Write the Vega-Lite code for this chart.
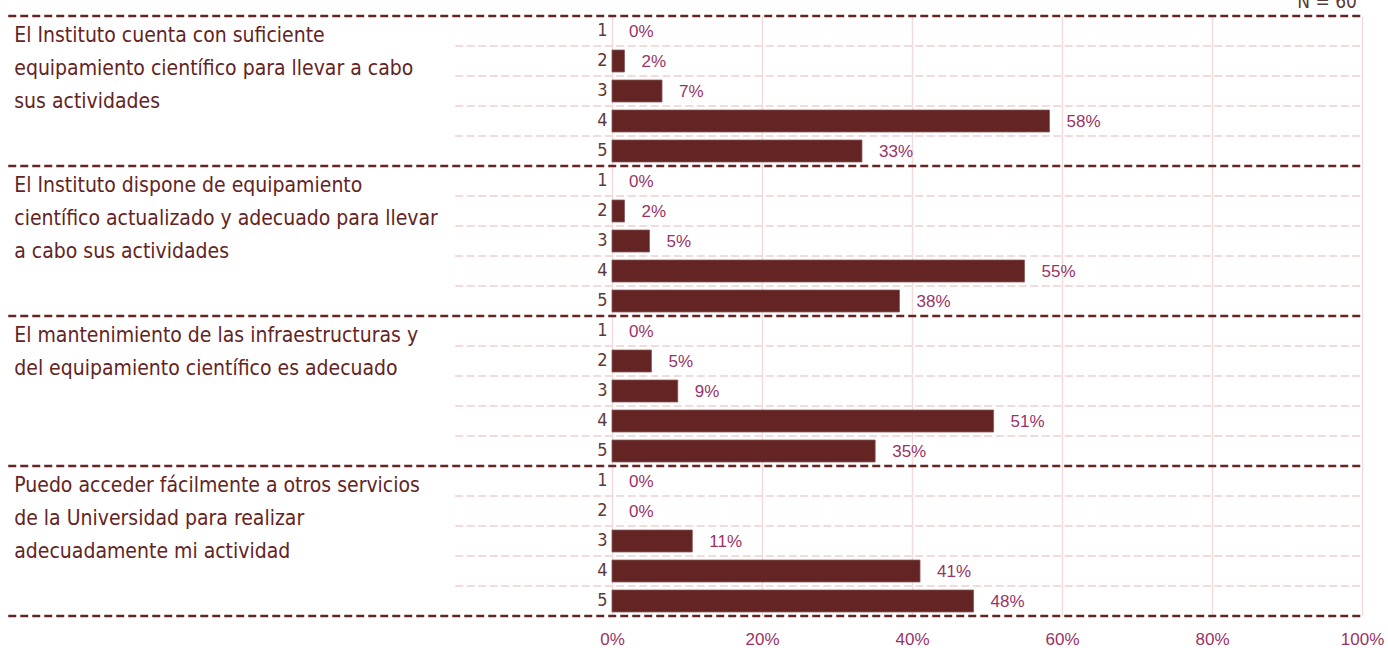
{
  "$schema": "https://vega.github.io/schema/vega-lite/v6.json",
  "autosize": {"type": "none"},
  "width": 750,
  "height": 600,
  "padding": {"left": 612, "top": 16, "right": 26, "bottom": 32},
  "background": "white",
  "datasets": {
    "resp": [
      {"key": "1-1", "group": 1, "resp": 1, "value": 0},
      {"key": "1-2", "group": 1, "resp": 2, "value": 0.0167},
      {"key": "1-3", "group": 1, "resp": 3, "value": 0.0667},
      {"key": "1-4", "group": 1, "resp": 4, "value": 0.5833},
      {"key": "1-5", "group": 1, "resp": 5, "value": 0.3333},
      {"key": "2-1", "group": 2, "resp": 1, "value": 0},
      {"key": "2-2", "group": 2, "resp": 2, "value": 0.0167},
      {"key": "2-3", "group": 2, "resp": 3, "value": 0.05},
      {"key": "2-4", "group": 2, "resp": 4, "value": 0.55},
      {"key": "2-5", "group": 2, "resp": 5, "value": 0.3833},
      {"key": "3-1", "group": 3, "resp": 1, "value": 0},
      {"key": "3-2", "group": 3, "resp": 2, "value": 0.0526},
      {"key": "3-3", "group": 3, "resp": 3, "value": 0.0877},
      {"key": "3-4", "group": 3, "resp": 4, "value": 0.5088},
      {"key": "3-5", "group": 3, "resp": 5, "value": 0.3509},
      {"key": "4-1", "group": 4, "resp": 1, "value": 0},
      {"key": "4-2", "group": 4, "resp": 2, "value": 0},
      {"key": "4-3", "group": 4, "resp": 3, "value": 0.1071},
      {"key": "4-4", "group": 4, "resp": 4, "value": 0.4107},
      {"key": "4-5", "group": 4, "resp": 5, "value": 0.4821}
    ],
    "questions": [
      {"key": "1-1", "text": "El Instituto cuenta con suficiente\nequipamiento científico para llevar a cabo\nsus actividades"},
      {"key": "2-1", "text": "El Instituto dispone de equipamiento\ncientífico actualizado y adecuado para llevar\na cabo sus actividades"},
      {"key": "3-1", "text": "El mantenimiento de las infraestructuras y\ndel equipamiento científico es adecuado"},
      {"key": "4-1", "text": "Puedo acceder fácilmente a otros servicios\nde la Universidad para realizar\nadecuadamente mi actividad"}
    ],
    "note": [{"key": "1-1", "text": "N = 60"}],
    "bottom": [{"key": "4-5"}]
  },
  "data": {"name": "resp"},
  "config": {
    "view": {"stroke": null},
    "axis": {"title": null}
  },
  "encoding": {
    "y": {
      "field": "key",
      "type": "nominal",
      "scale": {"paddingInner": 0, "paddingOuter": 0},
      "axis": {
        "domain": false,
        "ticks": false,
        "grid": false,
        "labelExpr": "substring(datum.value, 2)",
        "labelFont": "DejaVu Sans Condensed, Liberation Sans Narrow, sans-serif",
        "labelFontSize": 18,
        "labelColor": "#5a3a3a",
        "labelPadding": 5
      }
    }
  },
  "layer": [
    {
      "mark": {"type": "bar", "height": {"band": 0.733}, "color": "#632423", "stroke": "#8a5a5a"},
      "encoding": {
        "x": {
          "field": "value",
          "type": "quantitative",
          "scale": {"domain": [0, 1], "nice": false, "zero": true},
          "axis": {
            "values": [0, 0.2, 0.4, 0.6, 0.8, 1],
            "format": ".0%",
            "domain": false,
            "ticks": false,
            "grid": true,
            "gridColor": "#f2dcdb",
            "gridWidth": 1.5,
            "labelFont": "Liberation Sans",
            "labelFontSize": 17,
            "labelColor": "#993366",
            "labelPadding": 15,
            "labelFlush": false
          }
        },
        "strokeWidth": {"condition": {"test": "datum.value == 0", "value": 0}, "value": 0.8}
      }
    },
    {
      "mark": {"type": "text", "align": "left", "baseline": "middle", "dx": 17, "dy": 1, "font": "Liberation Sans", "fontSize": 17, "color": "#993366"},
      "encoding": {
        "x": {"field": "value", "type": "quantitative"},
        "text": {"field": "value", "type": "quantitative", "format": ".0%"}
      }
    },
    {
      "transform": [{"filter": "datum.resp > 1"}],
      "mark": {"type": "rule", "color": "#f2dcdb", "strokeWidth": 2, "strokeDash": [8, 3.5]},
      "encoding": {
        "y": {"field": "key", "type": "nominal", "bandPosition": 0},
        "x": {"datum": -0.209},
        "x2": {"datum": 1}
      }
    },
    {
      "transform": [{"filter": "datum.resp == 1"}],
      "mark": {"type": "rule", "color": "#632423", "strokeWidth": 2.5, "strokeDash": [8, 4]},
      "encoding": {
        "y": {"field": "key", "type": "nominal", "bandPosition": 0},
        "x": {"datum": -0.805},
        "x2": {"datum": 1}
      }
    },
    {
      "data": {"name": "bottom"},
      "mark": {"type": "rule", "color": "#632423", "strokeWidth": 2.5, "strokeDash": [8, 4]},
      "encoding": {
        "y": {"field": "key", "type": "nominal", "bandPosition": 1},
        "x": {"datum": -0.805},
        "x2": {"datum": 1}
      }
    },
    {
      "data": {"name": "questions"},
      "mark": {"type": "text", "align": "left", "baseline": "alphabetic", "dy": 26, "lineBreak": "\n", "lineHeight": 33, "font": "DejaVu Sans Condensed, Liberation Sans Narrow, sans-serif", "fontSize": 21, "color": "#632423"},
      "encoding": {
        "y": {"field": "key", "type": "nominal", "bandPosition": 0},
        "x": {"datum": -0.797},
        "text": {"field": "text", "type": "nominal"}
      }
    },
    {
      "data": {"name": "note"},
      "mark": {"type": "text", "align": "right", "baseline": "alphabetic", "dy": -8, "dx": -5, "font": "DejaVu Sans Condensed, Liberation Sans Narrow, sans-serif", "fontSize": 19, "color": "#5a3a3a"},
      "encoding": {
        "y": {"field": "key", "type": "nominal", "bandPosition": 0},
        "x": {"datum": 1},
        "text": {"field": "text", "type": "nominal"}
      }
    }
  ]
}
